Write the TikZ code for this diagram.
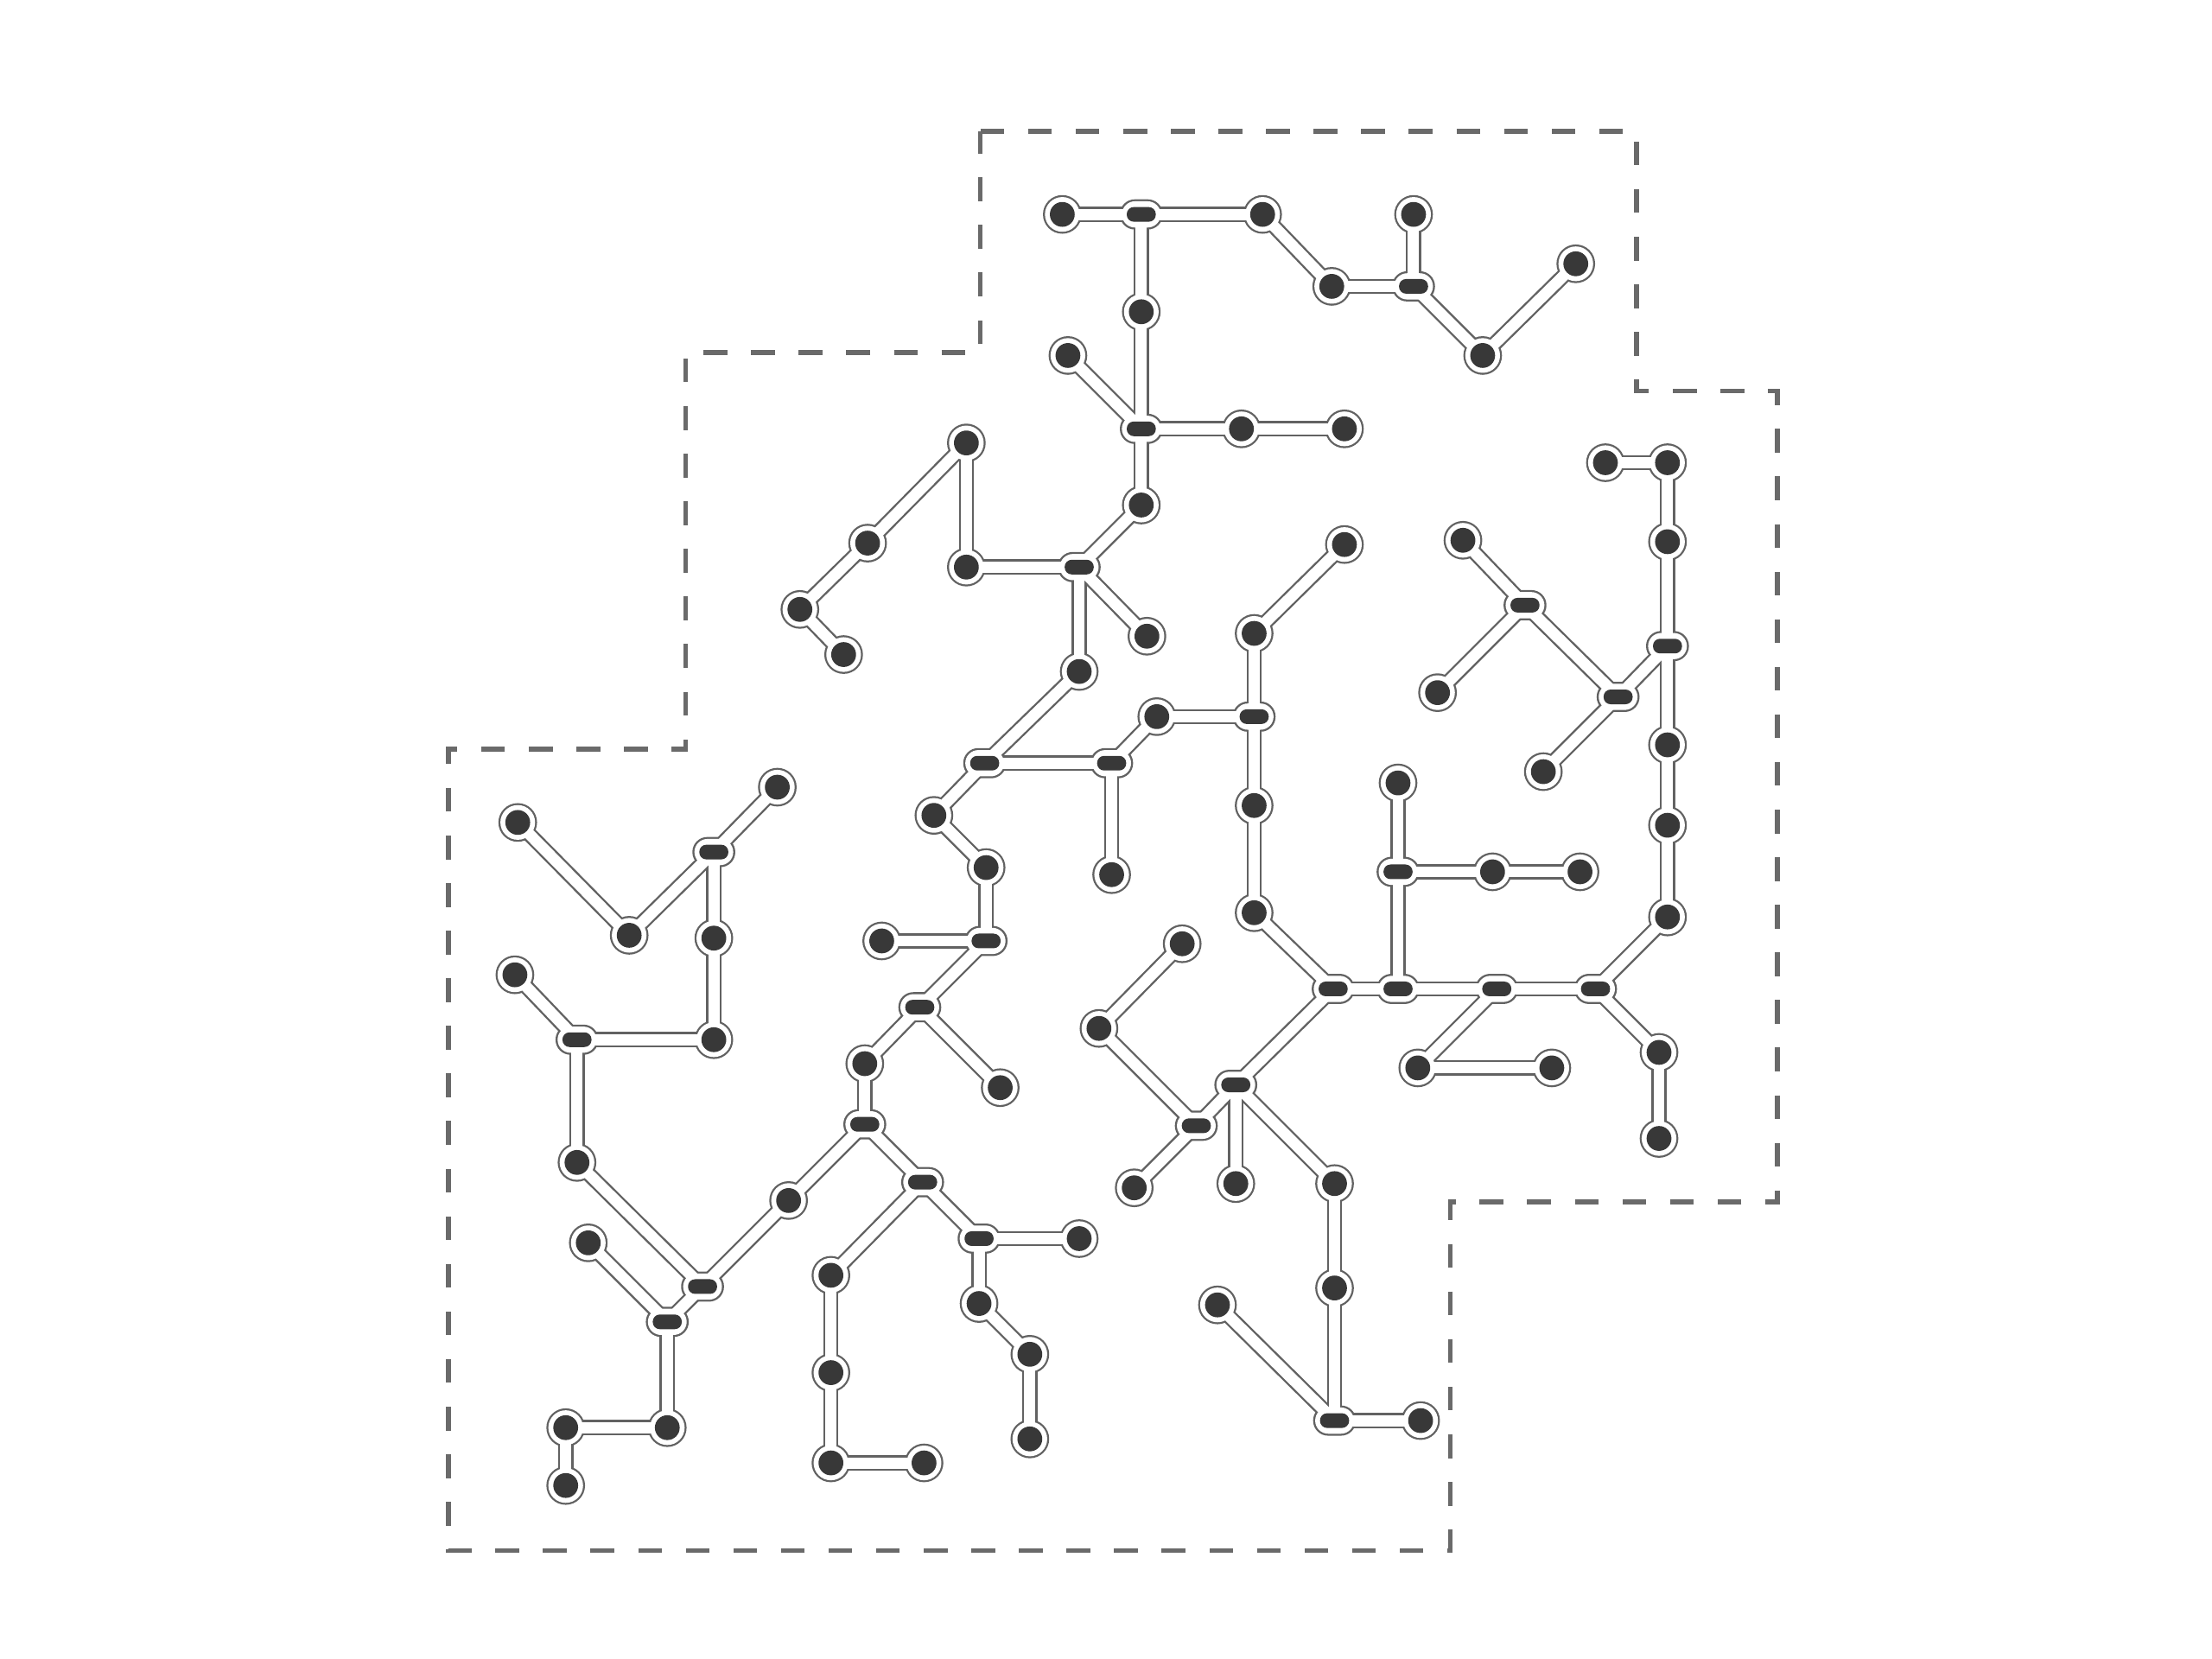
\documentclass[tikz,border=0pt]{standalone}
\usepackage{tikz}
\usetikzlibrary{shapes.misc}
\definecolor{nodefill}{HTML}{383838}
\definecolor{linegray}{HTML}{626262}
\definecolor{framegray}{HTML}{6A6A6A}
\pgfdeclarelayer{back}
\pgfdeclarelayer{mid}
\pgfsetlayers{back,mid,main}
\tikzset{
  site/.style={circle, fill=white, inner sep=0pt, minimum size=2.46mm,
    path picture={\fill[nodefill] (path picture bounding box.center) circle (0.88mm);}},
  hub/.style={rounded rectangle, fill=white, inner sep=0pt, minimum width=2.75mm, minimum height=1.86mm,
    path picture={\fill[nodefill, rounded corners=0.5mm, shift={(path picture bounding box.center)}] (-1.03mm,-0.52mm) rectangle (1.03mm,0.52mm);}},
  wireout/.style={draw=linegray, line width=1.08mm},
  wirein/.style={draw=white, line width=0.79mm},
  frame/.style={draw=framegray, line width=0.95pt, dash pattern=on 4.8pt off 4.8pt}
}
\newcommand{\sitenode}[3]{\node[site] (#1) at (#2,#3) {};
  \begin{pgfonlayer}{back}\fill[linegray] (#1.center) circle (1.37mm);\end{pgfonlayer}}
\newcommand{\hubnode}[3]{\node[hub] (#1) at (#2,#3) {};
  \begin{pgfonlayer}{back}\fill[linegray, rounded corners=1.06mm, shift={(#1.center)}] (-1.52mm,-1.07mm) rectangle (1.52mm,1.07mm);\end{pgfonlayer}}
\newcommand{\wire}[2]{%
  \begin{pgfonlayer}{back}\draw[wireout] (#1.center) -- (#2.center);\end{pgfonlayer}
  \begin{pgfonlayer}{mid}\draw[wirein] (#1.center) -- (#2.center);\end{pgfonlayer}}

\begin{document}
\begin{tikzpicture}
        \useasboundingbox (0,0) rectangle (15.68,-11.76);
        % outline
        \draw[frame] (6.95,-0.93) -- (11.60,-0.93) -- (11.60,-2.77) -- (12.60,-2.77) -- (12.60,-8.52)
          -- (10.28,-8.52) -- (10.28,-10.99) -- (3.18,-10.99) -- (3.18,-5.31) -- (4.86,-5.31)
          -- (4.86,-2.50) -- (6.95,-2.50) -- cycle;
        % top group
        \sitenode{a1}{7.53}{-1.52}
        \hubnode{j1}{8.09}{-1.52}
        \sitenode{a2}{8.95}{-1.52}
        \sitenode{a3}{9.44}{-2.03}
        \hubnode{j2}{10.02}{-2.03}
        \sitenode{a4}{10.02}{-1.52}
        \sitenode{a5}{10.51}{-2.52}
        \sitenode{a6}{11.17}{-1.87}
        \sitenode{a7}{8.09}{-2.21}
        \sitenode{a8}{7.57}{-2.52}
        \hubnode{j3}{8.09}{-3.04}
        \sitenode{a9}{8.80}{-3.04}
        \sitenode{a10}{9.53}{-3.04}
        \sitenode{a11}{8.09}{-3.58}
        % middle group
        \hubnode{j4}{7.65}{-4.02}
        \sitenode{b1}{6.85}{-4.02}
        \sitenode{b2}{6.85}{-3.14}
        \sitenode{b3}{6.15}{-3.85}
        \sitenode{b4}{5.67}{-4.32}
        \sitenode{b5}{5.98}{-4.64}
        \sitenode{b6}{8.13}{-4.51}
        \sitenode{b7}{7.65}{-4.76}
        \hubnode{j5}{6.98}{-5.41}
        \hubnode{j6}{7.88}{-5.41}
        \sitenode{b8}{8.20}{-5.08}
        \hubnode{j7}{8.89}{-5.08}
        \sitenode{b9}{8.89}{-4.49}
        \sitenode{b10}{9.53}{-3.86}
        \sitenode{b11}{8.89}{-5.71}
        \sitenode{b12}{8.89}{-6.47}
        \sitenode{b13}{7.88}{-6.20}
        % lower middle group
        \sitenode{c1}{6.62}{-5.78}
        \sitenode{c2}{6.99}{-6.15}
        \hubnode{j9}{6.99}{-6.67}
        \sitenode{c3}{6.25}{-6.67}
        \hubnode{j10}{6.52}{-7.14}
        \sitenode{c4}{7.09}{-7.71}
        \sitenode{c5}{6.13}{-7.54}
        \hubnode{j11}{6.13}{-7.97}
        \sitenode{c6}{5.59}{-8.51}
        \hubnode{j12}{4.98}{-9.12}
        \hubnode{j13}{6.54}{-8.38}
        \sitenode{c7}{5.89}{-9.04}
        \sitenode{c8}{5.89}{-9.73}
        \sitenode{c9}{5.89}{-10.37}
        \sitenode{c10}{6.55}{-10.37}
        \hubnode{j14}{6.94}{-8.78}
        \sitenode{c11}{7.65}{-8.78}
        \sitenode{c12}{6.94}{-9.24}
        \sitenode{c13}{7.30}{-9.60}
        \sitenode{c14}{7.30}{-10.20}
        % left group
        \sitenode{d1}{4.09}{-8.24}
        \hubnode{j15}{4.09}{-7.37}
        \sitenode{d2}{3.65}{-6.91}
        \sitenode{d3}{5.06}{-7.37}
        \sitenode{d4}{5.06}{-6.65}
        \hubnode{j16}{5.06}{-6.04}
        \sitenode{d5}{5.51}{-5.58}
        \sitenode{d6}{4.46}{-6.63}
        \sitenode{d7}{3.67}{-5.83}
        \sitenode{d8}{4.17}{-8.81}
        \hubnode{j17}{4.73}{-9.37}
        \sitenode{d9}{4.73}{-10.12}
        \sitenode{d10}{4.01}{-10.12}
        \sitenode{d11}{4.01}{-10.53}
        % right group
        \sitenode{e1}{11.38}{-3.28}
        \sitenode{e2}{11.82}{-3.28}
        \sitenode{e3}{11.82}{-3.84}
        \hubnode{j18}{11.82}{-4.58}
        \sitenode{e4}{11.82}{-5.28}
        \sitenode{e5}{11.82}{-5.85}
        \sitenode{e6}{11.82}{-6.50}
        \hubnode{j19}{11.31}{-7.01}
        \hubnode{j20}{11.47}{-4.94}
        \hubnode{j21}{10.81}{-4.29}
        \sitenode{e7}{10.37}{-3.83}
        \sitenode{e8}{10.19}{-4.91}
        \sitenode{e9}{10.94}{-5.47}
        \sitenode{e10}{9.91}{-5.55}
        \hubnode{j22}{9.91}{-6.18}
        \sitenode{e11}{10.58}{-6.18}
        \sitenode{e12}{11.20}{-6.18}
        \hubnode{j8}{9.45}{-7.01}
        \hubnode{j23}{9.91}{-7.01}
        \hubnode{j24}{10.61}{-7.01}
        \sitenode{e13}{10.05}{-7.57}
        \sitenode{e14}{11.00}{-7.57}
        \sitenode{e15}{11.76}{-7.46}
        \sitenode{e16}{11.76}{-8.07}
        % bottom right group
        \hubnode{j25}{8.76}{-7.69}
        \hubnode{j26}{8.48}{-7.98}
        \sitenode{f1}{7.79}{-7.29}
        \sitenode{f2}{8.38}{-6.69}
        \sitenode{f3}{8.04}{-8.42}
        \sitenode{f4}{8.76}{-8.39}
        \sitenode{f5}{9.46}{-8.39}
        \sitenode{f6}{9.46}{-9.13}
        \hubnode{j27}{9.46}{-10.07}
        \sitenode{f7}{8.63}{-9.25}
        \sitenode{f8}{10.07}{-10.07}
        % links top
        \wire{a1}{j1} \wire{j1}{a2} \wire{a2}{a3} \wire{a3}{j2} \wire{j2}{a4}
        \wire{j2}{a5} \wire{a5}{a6} \wire{j1}{a7} \wire{a7}{j3} \wire{a8}{j3}
        \wire{j3}{a9} \wire{a9}{a10} \wire{j3}{a11}
        % links middle
        \wire{a11}{j4} \wire{j4}{b1} \wire{b1}{b2} \wire{b2}{b3} \wire{b3}{b4}
        \wire{b4}{b5} \wire{j4}{b6} \wire{j4}{b7} \wire{b7}{j5} \wire{j5}{j6}
        \wire{j6}{b8} \wire{b8}{j7} \wire{j7}{b9} \wire{b9}{b10} \wire{j7}{b11}
        \wire{b11}{b12} \wire{b12}{j8} \wire{j6}{b13}
        % links lower middle
        \wire{j5}{c1} \wire{c1}{c2} \wire{c2}{j9} \wire{j9}{c3} \wire{j9}{j10}
        \wire{j10}{c4} \wire{j10}{c5} \wire{c5}{j11} \wire{j11}{c6} \wire{c6}{j12}
        \wire{j11}{j13} \wire{j13}{c7} \wire{c7}{c8} \wire{c8}{c9} \wire{c9}{c10}
        \wire{j13}{j14} \wire{j14}{c11} \wire{j14}{c12} \wire{c12}{c13} \wire{c13}{c14}
        % links left
        \wire{j12}{d1} \wire{d1}{j15} \wire{j15}{d2} \wire{j15}{d3} \wire{d3}{d4}
        \wire{d4}{j16} \wire{j16}{d5} \wire{j16}{d6} \wire{d6}{d7} \wire{j12}{j17}
        \wire{j17}{d8} \wire{j17}{d9} \wire{d9}{d10} \wire{d10}{d11}
        % links right
        \wire{e1}{e2} \wire{e2}{e3} \wire{e3}{j18} \wire{j18}{e4} \wire{e4}{e5}
        \wire{e5}{e6} \wire{e6}{j19} \wire{j18}{j20} \wire{j20}{j21} \wire{j21}{e7}
        \wire{j21}{e8} \wire{j20}{e9} \wire{e10}{j22} \wire{j22}{e11} \wire{e11}{e12}
        \wire{j22}{j23} \wire{j8}{j23} \wire{j23}{j24} \wire{j24}{j19} \wire{j24}{e13}
        \wire{e13}{e14} \wire{j19}{e15} \wire{e15}{e16}
        % links bottom right
        \wire{j8}{j25} \wire{j25}{j26} \wire{j26}{f1} \wire{f1}{f2} \wire{j26}{f3}
        \wire{j25}{f4} \wire{j25}{f5} \wire{f5}{f6} \wire{f6}{j27} \wire{j27}{f7}
        \wire{j27}{f8}
\end{tikzpicture}
\end{document}
